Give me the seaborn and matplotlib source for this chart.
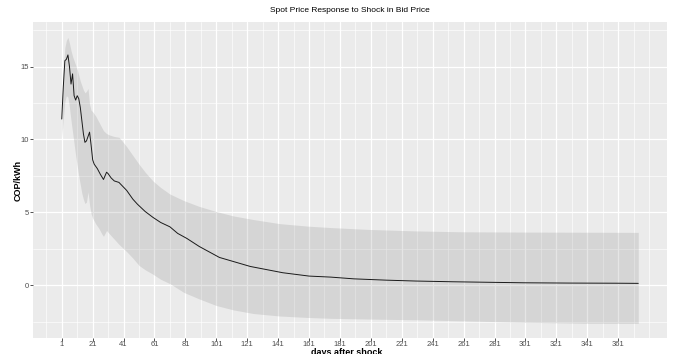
import matplotlib
matplotlib.use("Agg")
import matplotlib.pyplot as plt
import seaborn as sns
import numpy as np
import pandas as pd

# ---- data ----
line_days = [1, 2, 3, 4, 5, 6, 7, 8, 9, 10, 11, 12, 13, 14, 15, 16, 17, 18, 19, 20, 21, 22,
             24, 26, 28, 29, 30, 31, 33, 35, 38,
             43, 47, 50, 55, 60, 65, 71, 76, 82, 90,
             103, 123, 144, 161, 175, 190, 211, 230, 254, 280, 300, 330, 360, 374]
response = [11.4, 13.6, 15.4, 15.5, 15.8, 15.0, 13.8, 14.5, 13.0, 12.7,
            13.0, 12.8, 12.2, 11.3, 10.4, 9.8, 9.9, 10.2, 10.5, 9.6,
            8.6, 8.3,
            8.0, 7.6, 7.25, 7.5, 7.75, 7.65, 7.35, 7.15, 7.05,
            6.5, 5.9, 5.55, 5.05, 4.65, 4.3, 4.0, 3.55, 3.2, 2.65,
            1.9, 1.28, 0.85, 0.62, 0.55, 0.43, 0.34, 0.28, 0.23, 0.19, 0.16, 0.14, 0.13, 0.12]

band_days = [1, 2, 3, 4, 5, 6, 7, 8, 9, 10, 11, 12, 13, 14, 15, 16, 17, 18, 19, 20, 21,
             23, 25, 27, 28, 30, 32, 35, 38, 40, 43,
             47, 51, 55, 60, 65, 71, 80, 90, 101, 112,
             125, 142, 160, 175, 200, 230, 260, 300, 340, 374]
upper = [12.6, 14.6, 16.3, 16.8, 17.0, 16.6, 16.1, 15.7, 15.4, 15.1,
         14.8, 14.4, 14.0, 13.7, 13.4, 13.2, 13.3, 13.5, 12.4, 12.0,
         11.9,
         11.6, 11.2, 10.8, 10.6, 10.4, 10.3, 10.2, 10.15, 9.9, 9.5,
         8.9, 8.3, 7.75, 7.15, 6.7, 6.25, 5.8, 5.4, 5.05, 4.75,
         4.5, 4.22, 4.05, 3.95, 3.82, 3.72, 3.66, 3.64, 3.63, 3.62]
lower = [10.1, 11.4, 12.6, 13.0, 12.9, 12.2, 11.3, 10.5, 9.7, 8.9,
         8.2, 7.5, 6.9, 6.3, 5.9, 5.6, 5.7, 6.4, 5.5, 4.9,
         4.6,
         4.2, 3.9, 3.5, 3.35, 3.75, 3.5, 3.15, 2.8, 2.6, 2.3,
         1.85, 1.35, 1.05, 0.75, 0.4, 0.1, -0.5, -0.95, -1.4, -1.7,
         -1.95, -2.12, -2.22, -2.28, -2.33, -2.38, -2.45, -2.55, -2.62, -2.63]

x_ticks = [1, 21, 41, 61, 81, 101, 121, 141, 161, 181, 201, 221, 241, 261, 281, 301, 321, 341, 361]
y_ticks = [0, 5, 10, 15]

title = "Spot Price Response to Shock in Bid Price"
x_label = "days after shock"
y_label = "COP/kWh"

# ---- styling ----
sns.set_theme(style="darkgrid")
plt.rcParams["font.family"] = ["Liberation Sans", "DejaVu Sans"]

fig = plt.figure(figsize=(6.73, 3.54), dpi=100)
fig.patch.set_facecolor("white")
ax = fig.add_axes([33 / 673, 16 / 354, 634 / 673, 316 / 354])
ax.set_facecolor("#EBEBEB")

line_df = pd.DataFrame({"day": line_days, "value": response})

ax.fill_between(band_days, lower, upper, color="#7F7F7F", alpha=0.2, linewidth=0, zorder=2)
sns.lineplot(data=line_df, x="day", y="value", ax=ax, color="#1A1A1A",
             linewidth=0.7, zorder=3)

ax.set_xlim(-17.6, 392.6)
ax.set_ylim(-3.63, 18.06)

ax.set_xticks(x_ticks)
ax.set_xticklabels([str(t) for t in x_ticks])
ax.set_yticks(y_ticks)
ax.set_yticklabels([str(t) for t in y_ticks])

minor_x = [-9] + [t + 10 for t in x_ticks] + [381]
ax.set_xticks(minor_x, minor=True)
ax.set_yticks([-2.5, 2.5, 7.5, 12.5, 17.5], minor=True)

ax.grid(which="major", color="white", linewidth=0.9, zorder=1)
ax.grid(which="minor", color="white", linewidth=0.45, zorder=1)
ax.set_axisbelow(True)

for s in ax.spines.values():
    s.set_visible(False)

ax.tick_params(axis="both", which="major", length=2, width=0.6, color="#333333",
               labelsize=5.5, labelcolor="#4D4D4D", pad=1, bottom=True, left=True)
ax.tick_params(axis="x", which="major", pad=0.5)
ax.tick_params(axis="both", which="minor", length=0)

ax.set_xlabel("")
ax.set_ylabel("")
ax.text(0.5, 1.025, title, transform=ax.transAxes, ha="center", va="bottom",
        fontsize=6, color="black")
fig.text(347 / 673, 1.5 / 354, x_label, ha="center", va="center",
         fontsize=6.5, fontweight="bold", color="black")
fig.text(18 / 673, 1 - 180 / 354, y_label, ha="center", va="center", rotation=90,
         fontsize=6.5, fontweight="bold", color="black")

fig.savefig("out.png", dpi=100, facecolor="white")
